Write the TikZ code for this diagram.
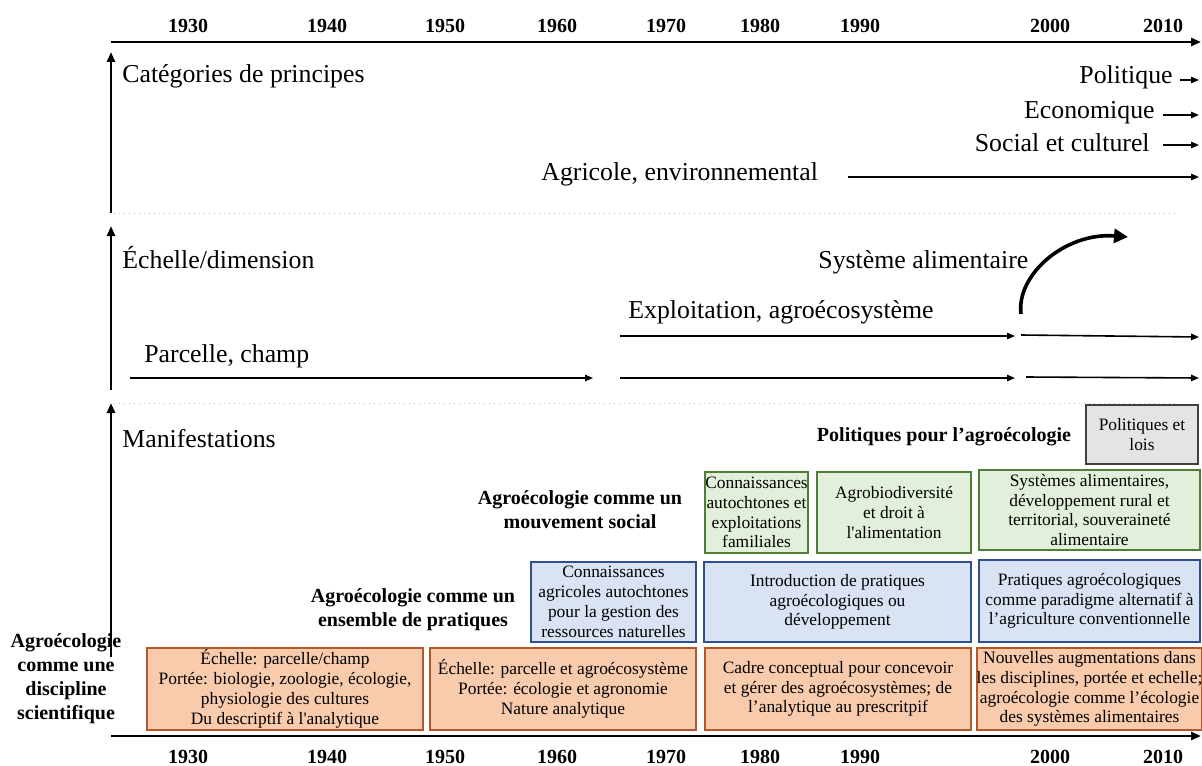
\documentclass[tikz,border=0pt]{standalone}
\usepackage{fontspec}
\setmainfont{Liberation Serif}
\usetikzlibrary{arrows.meta}
\definecolor{ofill}{HTML}{F8CBAD}
\definecolor{odraw}{HTML}{B4582A}
\definecolor{bfill}{HTML}{DAE3F3}
\definecolor{bdraw}{HTML}{2F4F8F}
\definecolor{gfill}{HTML}{E2EFDA}
\definecolor{gdraw}{HTML}{4E7F35}
\definecolor{pfill}{HTML}{E4E4E4}
\definecolor{pdraw}{HTML}{404040}
\begin{document}
\begin{tikzpicture}[x=0.5pt,y=-0.5pt,
  yr/.style={font=\bfseries\fontsize{10}{12}\selectfont, inner sep=0pt},
  big/.style={font=\fontsize{12.9}{15}\selectfont, inner sep=0pt},
  blab/.style={font=\bfseries\fontsize{10}{12}\selectfont, align=center, inner sep=0pt},
  bx/.style={font=\fontsize{8.7}{9.9}\selectfont, align=center, inner sep=0pt, line width=0.9pt},
  obox/.style={bx, draw=odraw, fill=ofill},
  bbox/.style={bx, draw=bdraw, fill=bfill},
  gbox/.style={bx, draw=gdraw, fill=gfill},
  pbox/.style={bx, draw=pdraw, fill=pfill},
  axis/.style={line width=1.3pt, -{Triangle[length=5pt,width=4pt]}},
  arr/.style={line width=0.8pt, -{Triangle[length=4pt,width=3.2pt]}},
  sep/.style={gray!55, dotted, line width=0.5pt}
]
\useasboundingbox (0,0) rectangle (1202,765);

% years
\foreach \yr/\xx in {1930/188,1940/327,1950/445,1960/557,1970/666,1980/760,1990/860,2000/1050,2010/1163}{
  \node[yr] (t\yr) at (\xx,26) {\yr};
  \node[yr] (b\yr) at (\xx,757) {\yr};
}

% axes
\coordinate (aT0) at (111,42); \coordinate (aT1) at (1201,42);
\draw[axis] (aT0) -- (aT1);
\coordinate (aB0) at (111,736); \coordinate (aB1) at (1201,736);
\draw[axis] (aB0) -- (aB1);

% vertical arrows
\coordinate (v1a) at (111,213); \coordinate (v1b) at (111,52);
\draw[axis] (v1a) -- (v1b);
\coordinate (v2a) at (111,390); \coordinate (v2b) at (111,226);
\draw[axis] (v2a) -- (v2b);
\coordinate (v3a) at (111,657); \coordinate (v3b) at (111,403);
\draw[axis] (v3a) -- (v3b);

% separators
\coordinate (s1a) at (114,213); \coordinate (s1b) at (1176,213);
\draw[sep] (s1a) -- (s1b);
\coordinate (s2a) at (114,403); \coordinate (s2b) at (1176,403);
\draw[sep] (s2a) -- (s2b);

% section 1
\node[big, anchor=west] (cat) at (122,76) {Catégories de principes};
\node[big, anchor=east] (pol) at (1173,77) {Politique};
\coordinate (pa) at (1180,80); \coordinate (pb) at (1199,80);
\draw[arr] (pa) -- (pb);
\node[big, anchor=east] (eco) at (1155,113) {Economique};
\coordinate (ea) at (1163,115); \coordinate (eb) at (1199,115);
\draw[arr] (ea) -- (eb);
\node[big, anchor=east] (soc) at (1150,143) {Social et culturel};
\coordinate (sa) at (1163,145); \coordinate (sb) at (1199,145);
\draw[arr] (sa) -- (sb);
\node[big, anchor=west] (agr) at (541,174) {Agricole, environnemental};
\coordinate (ga) at (848,177); \coordinate (gb) at (1199,177);
\draw[arr] (ga) -- (gb);

% section 2
\node[big, anchor=west] (ech) at (122,258) {Échelle/dimension};
\node[big, anchor=west] (sys) at (818,262) {Système alimentaire};
\coordinate (ca) at (1021,314); \coordinate (cb) at (1128,237);
\draw[line width=1.8pt, -{Triangle[length=7pt,width=7pt]}] (ca) .. controls (1016,275) and (1065,232) .. (cb);
\node[big, anchor=west] (exp) at (628,312) {Exploitation, agroécosystème};
\coordinate (x1a) at (620,336); \coordinate (x1b) at (1015,336);
\draw[arr] (x1a) -- (x1b);
\coordinate (x2a) at (1021,335); \coordinate (x2b) at (1199,337);
\draw[arr] (x2a) -- (x2b);
\node[big, anchor=west] (par) at (144,356) {Parcelle, champ};
\coordinate (p1a) at (130,378); \coordinate (p1b) at (593,378);
\draw[arr] (p1a) -- (p1b);
\coordinate (p2a) at (620,378); \coordinate (p2b) at (1015,378);
\draw[arr] (p2a) -- (p2b);
\coordinate (p3a) at (1026,377); \coordinate (p3b) at (1199,378);
\draw[arr] (p3a) -- (p3b);

% section 3
\node[big, anchor=west] (man) at (122,439) {Manifestations};
\node[blab] (ppa) at (944,437) {Politiques pour l’agroécologie};
\node[pbox, minimum width=56pt, minimum height=29.5pt] (pl) at (1142,434.5) {Politiques et\\lois};

\node[blab] (ms) at (580,510) {Agroécologie comme un\\mouvement social};
\node[gbox, minimum width=51.5pt, minimum height=40.5pt] (g1) at (756.5,512.5) {Connaissances\\autochtones et\\exploitations\\familiales};
\node[gbox, minimum width=77pt, minimum height=40.5pt] (g2) at (894,512.5) {Agrobiodiversité\\et droit à\\l\textquotesingle alimentation};
\node[gbox, minimum width=110.5pt, minimum height=40pt] (g3) at (1089.5,510) {Systèmes alimentaires,\\développement rural et\\territorial, souveraineté\\alimentaire};

\node[blab] (ep) at (413,610) {Agroécologie comme un\\ensemble de pratiques};
\node[bbox, minimum width=82.5pt, minimum height=40pt] (b1) at (613.5,602) {Connaissances\\agricoles autochtones\\pour la gestion des\\ressources naturelles};
\node[bbox, minimum width=133.5pt, minimum height=40pt] (b2) at (837.5,602) {Introduction de pratiques\\agroécologiques ou\\développement};
\node[bbox, minimum width=110.5pt, minimum height=41pt] (b3) at (1089.5,601) {Pratiques agroécologiques\\comme paradigme alternatif à\\l’agriculture conventionnelle};

\node[blab] (ds) at (66,679) {Agroécologie\\comme une\\discipline\\scientifique};
\node[obox, minimum width=138pt, minimum height=41pt] (o1) at (285,689) {Échelle: parcelle/champ\\Portée: biologie, zoologie, écologie,\\physiologie des cultures\\Du descriptif à l\textquotesingle analytique};
\node[obox, minimum width=133pt, minimum height=41pt] (o2) at (563,689) {Échelle: parcelle et agroécosystème\\Portée: écologie et agronomie\\Nature analytique};
\node[obox, minimum width=133pt, minimum height=41pt] (o3) at (838,689) {Cadre conceptual pour concevoir\\et gérer des agroécosystèmes; de\\l’analytique au prescritpif};
\node[obox, minimum width=110.5pt, minimum height=41pt] (o4) at (1089.5,689) {Nouvelles augmentations dans\\les disciplines, portée et echelle;\\agroécologie comme l’écologie\\des systèmes alimentaires};
\end{tikzpicture}
\end{document}
